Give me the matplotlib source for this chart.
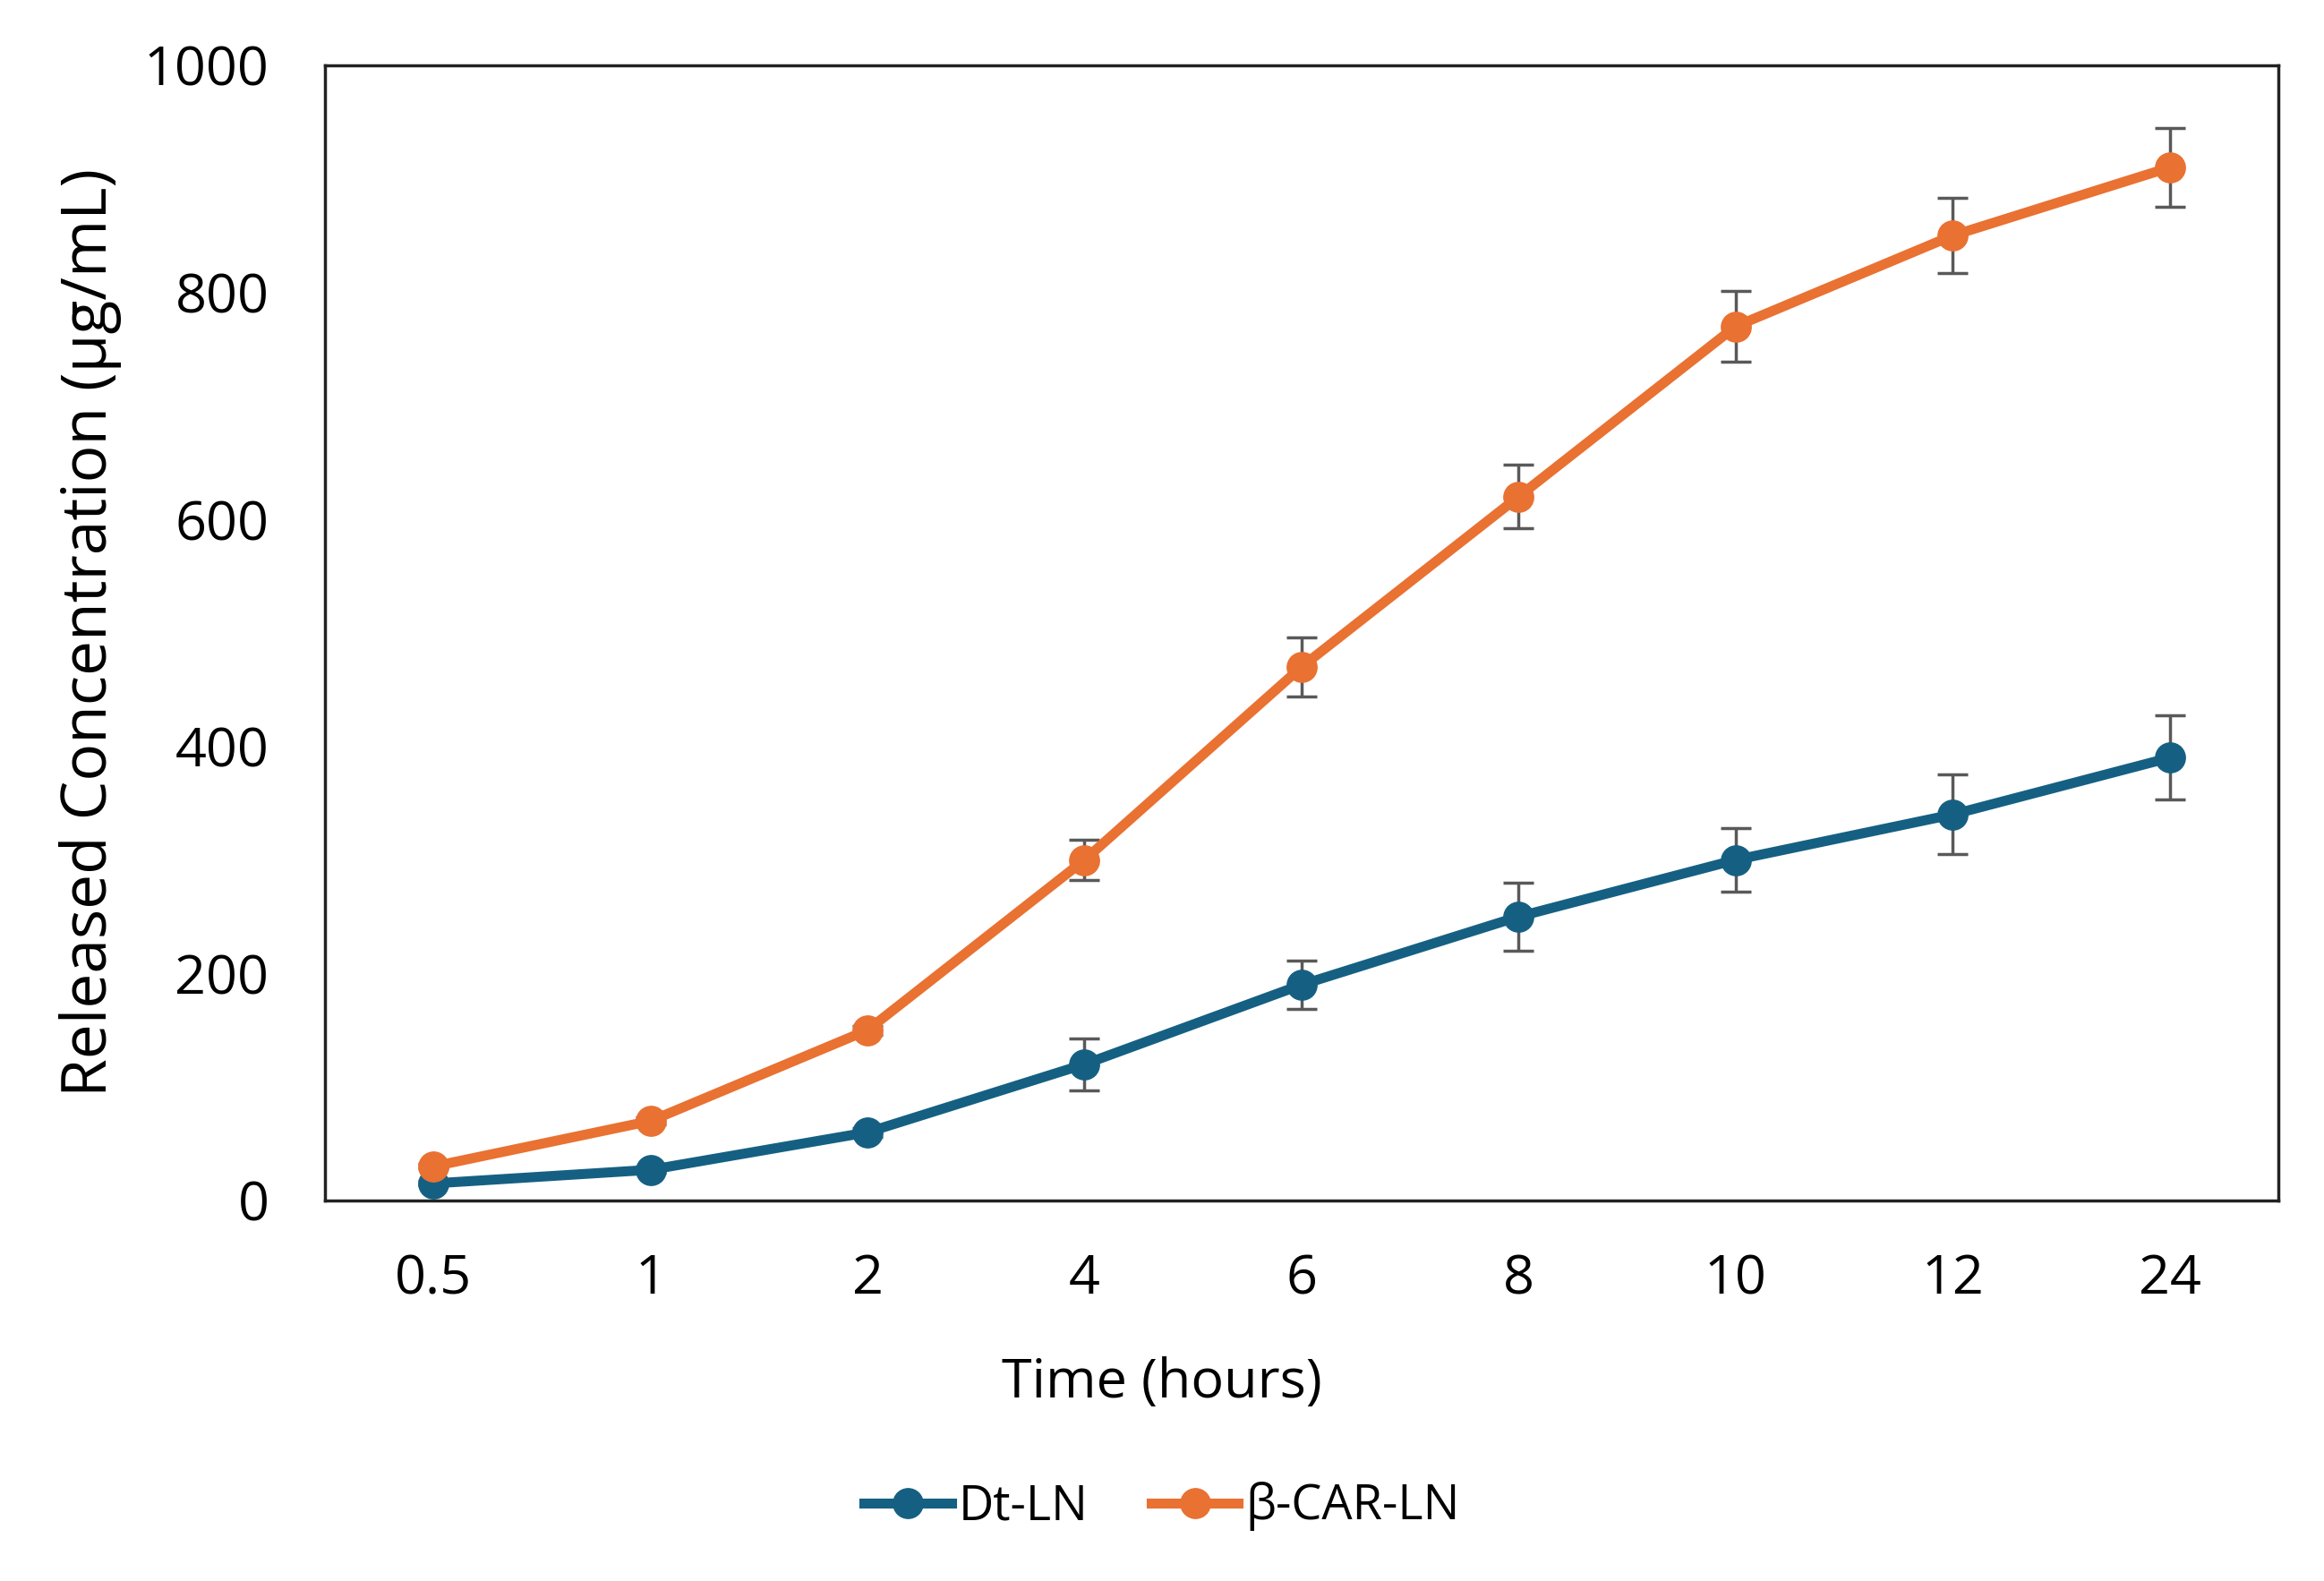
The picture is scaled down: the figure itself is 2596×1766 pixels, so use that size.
import matplotlib
matplotlib.use("Agg")
import matplotlib.pyplot as plt
import numpy as np

plt.rcParams['font.family'] = ['Open Sans', 'DejaVu Sans']

time_labels = ["0.5", "1", "2", "4", "6", "8", "10", "12", "24"]
dt_ln = [15, 27, 60, 120, 190, 250, 300, 340, 390]
dt_ln_err = [2, 3, 4, 23, 21, 30, 28, 35, 37]
bcar_ln = [30, 70, 150, 300, 470, 620, 770, 850, 910]
bcar_ln_err = [2, 3, 4, 18, 26, 28, 31, 33, 35]

c_blue = "#156082"
c_orange = "#E97132"
c_err = "#595959"

fig = plt.figure(figsize=(25.96, 17.66), dpi=100)
ax_left, ax_w = 0.1398, 0.8405
ax = fig.add_axes([ax_left, 0.2407, ax_w, 0.718])

x = np.arange(len(time_labels))
for y, e, c, lab in [(dt_ln, dt_ln_err, c_blue, "Dt-LN"), (bcar_ln, bcar_ln_err, c_orange, "β-CAR-LN")]:
    ax.errorbar(x, y, yerr=e, fmt='none', ecolor=c_err, elinewidth=2.5, capsize=12, capthick=2.5, zorder=2)
    ax.plot(x, y, color=c, lw=8, marker='o', markersize=24, label=lab, zorder=3)

ax.set_xlim(-0.5, len(time_labels) - 0.5)
ax.set_ylim(0, 1000)
ax.set_xticks(x)
ax.set_xticklabels(time_labels)
ax.set_yticks([0, 200, 400, 600, 800, 1000])
ax.tick_params(length=0, labelsize=44)
ax.tick_params(axis='x', pad=42)
ax.tick_params(axis='y', pad=45)
for s in ax.spines.values():
    s.set_linewidth(2.5)
    s.set_color("#222222")

ax.set_xlabel("Time (hours)", fontsize=44, labelpad=40)
ax.xaxis.label.set_x((0.5 - ax_left) / ax_w)
ax.set_ylabel("Released Concentration (µg/mL)", fontsize=50, labelpad=18)

fig.legend(loc='center', bbox_to_anchor=(0.5, 0.047), ncol=2, frameon=False, fontsize=39,
           handlelength=1.8, columnspacing=1.3, handletextpad=0.15)

fig.savefig("out.png", dpi=100, facecolor='white')
